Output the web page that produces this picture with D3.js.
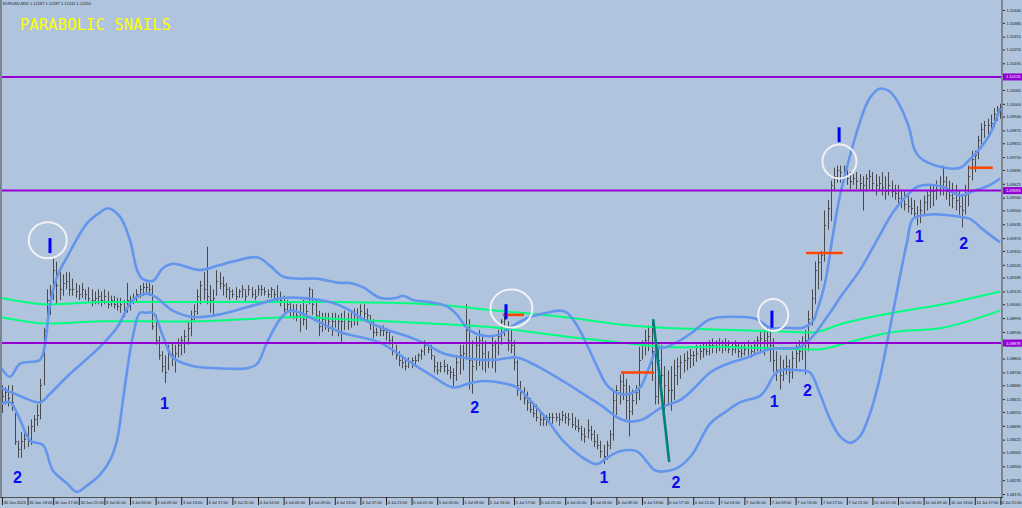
<!DOCTYPE html>
<html><head><meta charset="utf-8">
<script src="https://cdn.jsdelivr.net/npm/d3@7/dist/d3.min.js"></script>
<style>html,body{margin:0;padding:0;background:#B0C4DE;overflow:hidden}</style>
</head><body>
<svg id="c" width="1022" height="508"></svg>
<script>
// ---------------- DATA ----------------
const symbolHeader = "EURUSD,M30  1.12287 1.12287 1.12242 1.12250";
const chartTitle = "PARABOLIC SNAILS";

const timeLabels = ["30 Jun 2023","30 Jun 13:00","30 Jun 17:00","30 Jun 21:00",
 "3 Jul 01:00","3 Jul 05:00","3 Jul 09:00","3 Jul 13:00","3 Jul 17:00","3 Jul 21:00",
 "4 Jul 01:00","4 Jul 05:00","4 Jul 09:00","4 Jul 13:00","4 Jul 17:00","4 Jul 21:00",
 "5 Jul 01:00","5 Jul 05:00","5 Jul 09:00","5 Jul 13:00","5 Jul 17:00","5 Jul 21:00",
 "6 Jul 01:00","6 Jul 05:00","6 Jul 09:00","6 Jul 13:00","6 Jul 17:00","6 Jul 21:00",
 "7 Jul 01:00","7 Jul 05:00","7 Jul 09:00","7 Jul 13:00","7 Jul 17:00","7 Jul 21:00",
 "10 Jul 01:00","10 Jul 05:00","10 Jul 09:00","10 Jul 13:00","10 Jul 17:00","10 Jul 21:00"];
const barsPerLabel = 8;

const priceTicks = [1.10440,1.10380,1.10315,1.10255,1.10190,1.10065,1.10000,1.09940,1.09875,1.09815,
 1.09750,1.09690,1.09625,1.09560,1.09500,1.09435,1.09370,1.09310,1.09245,1.09185,1.09120,1.09060,
 1.08995,1.08930,1.08870,1.08805,1.08740,1.08680,1.08615,1.08555,1.08490,1.08425,1.08365,1.08300,
 1.08235,1.08170];

const high = [
1.0868,1.0867,1.0868,1.0868,1.0855,1.0842,1.0846,1.0847,1.0849,1.0852,
1.0854,1.0859,1.0871,1.0895,1.0913,1.0915,1.0928,1.0926,1.0921,1.0920,
1.0921,1.0921,1.0918,1.0916,1.0915,1.0916,1.0913,1.0914,1.0913,1.0912,
1.0913,1.0912,1.0913,1.0912,1.0910,1.0910,1.0909,1.0909,1.0908,1.0916,
1.0910,1.0911,1.0913,1.0915,1.0916,1.0916,1.0916,1.0915,1.0901,1.0891,
1.0884,1.0882,1.0887,1.0888,1.0887,1.0890,1.0891,1.0894,1.0898,1.0903,
1.0906,1.0913,1.0917,1.0921,1.0933,1.0915,1.0913,1.0922,1.0921,1.0919,
1.0916,1.0914,1.0913,1.0914,1.0913,1.0915,1.0913,1.0915,1.0914,1.0913,
1.0915,1.0915,1.0914,1.0913,1.0914,1.0913,1.0915,1.0912,1.0910,1.0908,
1.0907,1.0906,1.0906,1.0906,1.0908,1.0906,1.0914,1.0913,1.0908,1.0903,
1.0902,1.0902,1.0902,1.0902,1.0902,1.0901,1.0902,1.0903,1.0902,1.0903,
1.0904,1.0904,1.0906,1.0906,1.0904,1.0901,1.0899,1.0895,1.0896,1.0896,
1.0895,1.0894,1.0891,1.0887,1.0884,1.0882,1.0881,1.0881,1.0881,1.0882,
1.0883,1.0885,1.0889,1.0888,1.0887,1.0882,1.0879,1.0879,1.0880,1.0878,
1.0877,1.0876,1.0882,1.0887,1.0887,1.0906,1.0899,1.0889,1.0891,1.0894,
1.0891,1.0889,1.0884,1.0891,1.0889,1.0894,1.0899,1.0902,1.0898,1.0896,
1.0889,1.0880,1.0870,1.0867,1.0865,1.0862,1.0860,1.0859,1.0856,1.0855,
1.0854,1.0855,1.0855,1.0855,1.0855,1.0856,1.0855,1.0855,1.0855,1.0853,
1.0852,1.0849,1.0848,1.0852,1.0849,1.0847,1.0845,1.0842,1.0840,1.0842,
1.0847,1.0866,1.0868,1.0873,1.0874,1.0871,1.0868,1.0866,1.0868,1.0886,
1.0889,1.0894,1.0896,1.0898,1.0889,1.0887,1.0887,1.0877,1.0875,1.0877,
1.0880,1.0881,1.0882,1.0883,1.0884,1.0885,1.0884,1.0887,1.0887,1.0888,
1.0888,1.0889,1.0890,1.0889,1.0890,1.0889,1.0890,1.0889,1.0888,1.0889,
1.0888,1.0887,1.0888,1.0889,1.0887,1.0889,1.0891,1.0893,1.0894,1.0895,
1.0895,1.0890,1.0884,1.0882,1.0880,1.0882,1.0880,1.0884,1.0887,1.0889,
1.0891,1.0894,1.0903,1.0913,1.0926,1.0930,1.0931,1.0950,1.0955,1.0964,
1.0970,1.0971,1.0971,1.0971,1.0969,1.0968,1.0967,1.0968,1.0967,1.0966,
1.0967,1.0969,1.0968,1.0967,1.0966,1.0968,1.0966,1.0968,1.0964,1.0962,
1.0962,1.0959,1.0959,1.0957,1.0956,1.0955,1.0952,1.0955,1.0957,1.0959,
1.0962,1.0962,1.0964,1.0966,1.0971,1.0966,1.0964,1.0963,1.0962,1.0959,
1.0957,1.0962,1.0971,1.0978,1.0978,1.0985,1.0991,1.0992,1.0993,1.0995,
1.0998,1.0999,1.1000];

const low = [
1.0855,1.0859,1.0858,1.0856,1.0840,1.0834,1.0834,1.0838,1.0839,1.0840,
1.0846,1.0849,1.0852,1.0868,1.0894,1.0901,1.0908,1.0906,1.0908,1.0910,
1.0913,1.0910,1.0910,1.0909,1.0908,1.0909,1.0908,1.0907,1.0905,1.0906,
1.0906,1.0905,1.0906,1.0904,1.0905,1.0904,1.0903,1.0902,1.0900,1.0902,
1.0903,1.0906,1.0907,1.0909,1.0910,1.0911,1.0910,1.0894,1.0887,1.0880,
1.0874,1.0869,1.0875,1.0877,1.0874,1.0881,1.0882,1.0883,1.0887,1.0891,
1.0898,1.0901,1.0906,1.0908,1.0906,1.0902,1.0900,1.0910,1.0913,1.0910,
1.0909,1.0908,1.0909,1.0908,1.0909,1.0909,1.0907,1.0910,1.0909,1.0908,
1.0910,1.0910,1.0910,1.0909,1.0909,1.0908,1.0907,1.0905,1.0902,1.0902,
1.0900,1.0899,1.0898,1.0893,1.0896,1.0894,1.0906,1.0901,1.0898,1.0891,
1.0893,1.0894,1.0893,1.0891,1.0895,1.0891,1.0888,1.0894,1.0894,1.0895,
1.0896,1.0896,1.0898,1.0898,1.0898,1.0894,1.0890,1.0891,1.0891,1.0891,
1.0889,1.0887,1.0882,1.0880,1.0877,1.0876,1.0875,1.0876,1.0876,1.0877,
1.0879,1.0880,1.0882,1.0883,1.0880,1.0874,1.0873,1.0874,1.0874,1.0873,
1.0871,1.0867,1.0870,1.0873,1.0875,1.0880,1.0866,1.0864,1.0875,1.0877,
1.0875,1.0874,1.0876,1.0876,1.0874,1.0882,1.0887,1.0891,1.0884,1.0883,
1.0875,1.0863,1.0861,1.0859,1.0856,1.0855,1.0853,1.0851,1.0849,1.0849,
1.0849,1.0850,1.0850,1.0851,1.0849,1.0851,1.0850,1.0849,1.0848,1.0847,
1.0846,1.0842,1.0841,1.0843,1.0842,1.0839,1.0838,1.0834,1.0831,1.0833,
1.0838,1.0842,1.0854,1.0859,1.0861,1.0852,1.0844,1.0854,1.0859,1.0861,
1.0880,1.0882,1.0884,1.0870,1.0859,1.0859,1.0863,1.0856,1.0859,1.0856,
1.0861,1.0868,1.0871,1.0874,1.0875,1.0876,1.0877,1.0879,1.0880,1.0881,
1.0882,1.0882,1.0883,1.0883,1.0884,1.0883,1.0884,1.0883,1.0882,1.0883,
1.0881,1.0881,1.0882,1.0882,1.0881,1.0882,1.0884,1.0883,1.0882,1.0884,
1.0879,1.0874,1.0870,1.0866,1.0870,1.0873,1.0869,1.0871,1.0876,1.0879,
1.0880,1.0873,1.0884,1.0896,1.0906,1.0913,1.0917,1.0926,1.0941,1.0945,
1.0959,1.0963,1.0963,1.0964,1.0962,1.0960,1.0962,1.0960,1.0959,1.0950,
1.0959,1.0960,1.0959,1.0957,1.0959,1.0957,1.0955,1.0957,1.0956,1.0955,
1.0952,1.0951,1.0950,1.0949,1.0948,1.0946,1.0943,1.0944,1.0948,1.0950,
1.0951,1.0952,1.0955,1.0957,1.0957,1.0955,1.0952,1.0951,1.0950,1.0948,
1.0942,1.0948,1.0952,1.0964,1.0968,1.0974,1.0981,1.0984,1.0985,1.0987,
1.0989,1.0992,1.0993];

const close = [
1.0863,1.0865,1.0862,1.0860,1.0842,1.0838,1.0842,1.0843,1.0842,1.0849,
1.0852,1.0854,1.0868,1.0894,1.0908,1.0912,1.0922,1.0915,1.0913,1.0916,
1.0917,1.0913,1.0913,1.0912,1.0911,1.0913,1.0911,1.0909,1.0908,1.0909,
1.0910,1.0908,1.0910,1.0906,1.0908,1.0906,1.0905,1.0906,1.0904,1.0908,
1.0907,1.0909,1.0911,1.0913,1.0914,1.0914,1.0913,1.0896,1.0889,1.0882,
1.0877,1.0874,1.0884,1.0882,1.0883,1.0887,1.0889,1.0891,1.0895,1.0899,
1.0903,1.0910,1.0915,1.0913,1.0910,1.0908,1.0909,1.0917,1.0916,1.0915,
1.0913,1.0912,1.0911,1.0910,1.0912,1.0913,1.0910,1.0913,1.0911,1.0910,
1.0913,1.0913,1.0912,1.0911,1.0913,1.0911,1.0909,1.0908,1.0904,1.0906,
1.0904,1.0903,1.0901,1.0902,1.0899,1.0903,1.0913,1.0906,1.0901,1.0896,
1.0899,1.0900,1.0898,1.0898,1.0899,1.0898,1.0898,1.0899,1.0898,1.0899,
1.0901,1.0901,1.0903,1.0902,1.0901,1.0898,1.0893,1.0893,1.0894,1.0894,
1.0893,1.0889,1.0884,1.0882,1.0880,1.0879,1.0877,1.0879,1.0880,1.0880,
1.0882,1.0884,1.0887,1.0885,1.0882,1.0877,1.0875,1.0877,1.0877,1.0875,
1.0874,1.0873,1.0879,1.0882,1.0883,1.0894,1.0880,1.0877,1.0887,1.0889,
1.0883,1.0880,1.0880,1.0887,1.0880,1.0891,1.0898,1.0899,1.0889,1.0887,
1.0879,1.0868,1.0865,1.0862,1.0860,1.0857,1.0855,1.0853,1.0852,1.0852,
1.0853,1.0853,1.0853,1.0853,1.0852,1.0854,1.0853,1.0852,1.0850,1.0849,
1.0848,1.0845,1.0844,1.0847,1.0845,1.0842,1.0840,1.0837,1.0835,1.0840,
1.0845,1.0861,1.0866,1.0870,1.0868,1.0861,1.0856,1.0861,1.0865,1.0880,
1.0887,1.0889,1.0891,1.0884,1.0863,1.0880,1.0873,1.0868,1.0866,1.0866,
1.0873,1.0877,1.0879,1.0880,1.0881,1.0882,1.0882,1.0883,1.0884,1.0885,
1.0884,1.0887,1.0887,1.0886,1.0888,1.0886,1.0887,1.0885,1.0885,1.0887,
1.0884,1.0883,1.0885,1.0886,1.0884,1.0887,1.0889,1.0890,1.0889,1.0891,
1.0887,1.0880,1.0875,1.0873,1.0876,1.0877,1.0874,1.0881,1.0883,1.0884,
1.0887,1.0889,1.0899,1.0909,1.0922,1.0926,1.0929,1.0943,1.0951,1.0962,
1.0966,1.0969,1.0968,1.0969,1.0965,1.0964,1.0965,1.0964,1.0963,1.0962,
1.0965,1.0966,1.0963,1.0962,1.0963,1.0961,1.0959,1.0962,1.0959,1.0958,
1.0956,1.0955,1.0953,1.0952,1.0951,1.0949,1.0948,1.0950,1.0954,1.0957,
1.0959,1.0959,1.0960,1.0962,1.0964,1.0959,1.0957,1.0956,1.0955,1.0952,
1.0950,1.0957,1.0966,1.0974,1.0976,1.0983,1.0988,1.0990,1.0990,1.0991,
1.0995,1.0997,1.0998];

// Bollinger-type envelope, [bar index, price]
const bandUpper = [[-0.6,1.0877],[2.5,1.0872],[5.6,1.0878],[11.9,1.0880],[13.4,1.0887],[15,1.0906],
 [17.5,1.0920],[20.3,1.0928],[26.6,1.0944],[30.6,1.0949],[33.1,1.0951],[36.9,1.0947],[40,1.0936],
 [42.2,1.0922],[43.8,1.0918],[47.2,1.0917],[50.3,1.0923],[53.4,1.0925],[61.9,1.0922],[67.2,1.0924],
 [72.2,1.0926],[79.7,1.0928],[83.8,1.0924],[87.8,1.0919],[93.1,1.0918],[98.4,1.0918],[105.6,1.0916],
 [108.8,1.0916],[112.8,1.0914],[118.1,1.0909],[123.4,1.0909],[125.3,1.0910],[128.4,1.0908],
 [133.8,1.0907],[139.1,1.0905],[142.2,1.0901],[145.3,1.0895],[148.4,1.0892],[152.5,1.0891],
 [155.6,1.0892],[157.8,1.0894],[160.9,1.0897],[165,1.0900],[170.3,1.0902],[174.4,1.0903],
 [176.6,1.0902],[179.7,1.0896],[182.8,1.0887],[185.9,1.0877],[189.1,1.0868],[193.1,1.0864],
 [196.3,1.0864],[199.4,1.0867],[201.6,1.0874],[203.1,1.0880],[204.7,1.0885],[207.8,1.0886],
 [211.9,1.0889],[215.9,1.0893],[221.3,1.0899],[231.6,1.0900],[235.9,1.0899],[240,1.0895],
 [245.3,1.0895],[250.3,1.0895],[253.4,1.0898],[254.7,1.0903],[257.2,1.0916],[259.4,1.0936],
 [261.6,1.0955],[264.7,1.0974],[267.8,1.0990],[270.9,1.1002],[274,1.1007],[277.2,1.1006],
 [280.3,1.1000],[283.4,1.0989],[285.3,1.0978],[287.5,1.0974],[294.7,1.0970],[299.4,1.0970],
 [302.5,1.0974],[305.6,1.0979],[308.8,1.0986],[311.9,1.0998]];
const bandMiddle = [[-0.6,1.0867],[5.6,1.0863],[11.9,1.0860],[15,1.0864],[20.3,1.0872],[30.6,1.0886],
 [35.9,1.0895],[40.9,1.0908],[45.3,1.0911],[48.4,1.0909],[53.4,1.0903],[59.7,1.0900],[67.2,1.0901],
 [77.5,1.0905],[87.8,1.0909],[93.1,1.0909],[102.5,1.0907],[108.8,1.0903],[112.8,1.0899],
 [120.3,1.0894],[126.6,1.0891],[131.6,1.0888],[137.8,1.0883],[144.1,1.0881],[149.4,1.0880],
 [154.7,1.0880],[160.9,1.0881],[167.2,1.0877],[175.3,1.0870],[181.6,1.0864],[187.8,1.0858],
 [192.2,1.0853],[196.3,1.0851],[200.3,1.0852],[203.4,1.0855],[206.6,1.0858],[211.9,1.0861],
 [215.9,1.0866],[221.3,1.0874],[226.6,1.0878],[232.8,1.0881],[240,1.0885],[249.4,1.0886],
 [253.4,1.0891],[257.8,1.0900],[262.8,1.0911],[268.1,1.0922],[273.4,1.0936],[278.4,1.0949],
 [282.8,1.0957],[285.9,1.0961],[289.1,1.0962],[294.1,1.0961],[299.4,1.0957],[303.4,1.0959],
 [308.8,1.0962],[311.9,1.0965]];
const bandLower = [[-0.6,1.0859],[2.5,1.0860],[5.6,1.0852],[8.8,1.0842],[12.8,1.0840],[15.9,1.0828],
 [20.3,1.0822],[23.4,1.0818],[26.6,1.0821],[30.6,1.0826],[33.8,1.0833],[35.9,1.0842],[37.8,1.0861],
 [39.4,1.0878],[40.9,1.0891],[43.1,1.0902],[45.3,1.0902],[47.2,1.0902],[50.3,1.0891],[53.4,1.0881],
 [59.7,1.0877],[67.2,1.0876],[76.6,1.0876],[79.7,1.0878],[82.8,1.0888],[86.9,1.0899],[90,1.0903],
 [93.1,1.0902],[105.6,1.0893],[118.1,1.0888],[128.4,1.0878],[133.8,1.0873],[140.9,1.0867],
 [146.3,1.0869],[150.3,1.0870],[156.6,1.0869],[160.9,1.0867],[165,1.0861],[170.3,1.0852],
 [175.3,1.0842],[180.6,1.0835],[185.9,1.0831],[189.1,1.0834],[193.1,1.0837],[198.4,1.0837],
 [201.6,1.0832],[204.1,1.0828],[208.8,1.0828],[211.9,1.0830],[215.9,1.0836],[221.3,1.0850],
 [226.6,1.0856],[230.6,1.0860],[236.9,1.0863],[239.1,1.0867],[240.9,1.0872],[243.1,1.0875],
 [249.4,1.0875],[252.5,1.0874],[255.6,1.0864],[258.8,1.0852],[261.9,1.0844],[265,1.0841],
 [268.1,1.0844],[271.3,1.0855],[274.4,1.0872],[277.5,1.0895],[280.6,1.0919],[282.8,1.0935],
 [284.7,1.0946],[289.1,1.0948],[294.1,1.0948],[299.4,1.0947],[302.5,1.0946],[306.6,1.0941],
 [311.9,1.0935]];

// two moving averages
const maUpper = [[-0.6,1.0909],[12.8,1.0906],[30.6,1.0907],[61.9,1.0907],[93.1,1.0907],[105.6,1.0907],
 [133.8,1.0906],[154.7,1.0903],[175.3,1.0900],[196.3,1.0896],[206.6,1.0895],[226.6,1.0894],
 [247.2,1.0893],[254.7,1.0893],[262.8,1.0897],[278.4,1.0902],[294.1,1.0906],[311.9,1.0912]];
const maLower = [[-0.6,1.0900],[12.8,1.0897],[30.6,1.0898],[61.9,1.0898],[93.1,1.0900],[105.6,1.0899],
 [133.8,1.0897],[154.7,1.0895],[175.3,1.0891],[193.1,1.0888],[206.6,1.0886],[226.6,1.0886],
 [247.2,1.0885],[256.6,1.0885],[264.1,1.0888],[278.4,1.0893],[294.1,1.0895],[311.9,1.0903]];

const levels = [1.10126, 1.09593, 1.08878];

// signal objects
const circleBar = [14.3, 159.2, 241.0, 261.7];
const circlePrice = [1.0936, 1.0904, 1.0901, 1.0973];
const arrowBar = [15, 157.5, 240.6, 261.6];
const arrowTop = [1.0937, 1.0906, 1.0903, 1.0989];
const arrowBottom = [1.0930, 1.0899, 1.0895, 1.0982];
const entryFrom = [156.5, 193.4, 251.3, 302.3];
const entryTo = [163.1, 203.8, 262.7, 309.6];
const entryPrice = [1.0901, 1.0874, 1.0930, 1.0970];
const trendLine = [[203.5, 1.0899], [208.5, 1.0832]];
const waveText = ["2","1","2","1","2","1","2","1","2"];
const waveBar = [4.8, 50.8, 147.7, 188.1, 210.6, 241.3, 251.7, 286.6, 300.5];
const wavePrice = [1.0822, 1.0857, 1.0855, 1.0822, 1.0820, 1.0858, 1.0863, 1.0935, 1.0932];

// ---------------- DRAWING ----------------
const W = 1022, H = 508, plotR = 1001, plotB = 497;
const FONT = 'Liberation Sans, Arial, sans-serif';
const svg = d3.select('#c');
svg.append('rect').attr('width', W).attr('height', H).attr('fill', '#B0C4DE');

const x = d3.scaleLinear().domain([0, 312]).range([2, 1000.4]);
const y = d3.scaleLinear().domain([1.0817, 1.1044]).range([494, 10]);

svg.append('defs').append('clipPath').attr('id', 'clip')
  .append('rect').attr('x', 0).attr('y', 0).attr('width', plotR).attr('height', plotB);
const plot = svg.append('g').attr('clip-path', 'url(#clip)');

// header & title
svg.append('text').attr('x', 3).attr('y', 4.8).attr('font-size', 4)
  .attr('font-family', FONT).attr('fill', '#1a1a1a').text(symbolHeader);
svg.append('text').attr('x', 20).attr('y', 29.5).attr('font-size', 15.2)
  .attr('font-family', 'DejaVu Sans Mono, monospace').attr('letter-spacing', 0.3)
  .attr('fill', '#FFFF00').text(chartTitle);

// price bars
const px = i => Math.round(x(i)) + 0.5;
let barPath = '';
high.forEach((h, i) => {
  const xx = px(i);
  barPath += `M${xx},${y(h)}V${y(low[i])}M${xx},${Math.round(y(close[i]))+0.5}h1.6`;
});
plot.append('path').attr('d', barPath).attr('stroke', '#4a4a4a').attr('stroke-width', 1).attr('fill', 'none');

// lines
const ln = d3.line().x(d => x(d[0])).y(d => y(d[1])).curve(d3.curveCatmullRom.alpha(0.5));
[maUpper, maLower].forEach(s => plot.append('path').attr('d', ln(s))
  .attr('fill', 'none').attr('stroke', '#00FF7F').attr('stroke-width', 2));
[bandUpper, bandMiddle, bandLower].forEach(s => plot.append('path').attr('d', ln(s))
  .attr('fill', 'none').attr('stroke', '#6495ED').attr('stroke-width', 2.6).attr('stroke-linejoin', 'round'));

// horizontal levels
levels.forEach(l => plot.append('line').attr('x1', 0).attr('x2', plotR)
  .attr('y1', y(l)).attr('y2', y(l)).attr('stroke', '#9400D3').attr('stroke-width', 2));

// entry segments
entryFrom.forEach((f, k) => plot.append('line').attr('x1', x(f)).attr('x2', x(entryTo[k]))
  .attr('y1', y(entryPrice[k])).attr('y2', y(entryPrice[k]))
  .attr('stroke', '#FF4500').attr('stroke-width', 2.6));

// trend line
plot.append('line').attr('x1', x(trendLine[0][0])).attr('y1', y(trendLine[0][1]))
  .attr('x2', x(trendLine[1][0])).attr('y2', y(trendLine[1][1]))
  .attr('stroke', '#008080').attr('stroke-width', 2.6);

// circles
const circR = [[19, 18], [21, 19], [15, 16], [17, 17]];
circleBar.forEach((b, k) => plot.append('ellipse').attr('cx', x(b)).attr('cy', y(circlePrice[k]))
  .attr('rx', circR[k][0]).attr('ry', circR[k][1])
  .attr('fill', 'none').attr('stroke', '#F2F2F2').attr('stroke-width', 2));

// arrows (vertical blue ticks)
arrowBar.forEach((b, k) => plot.append('line').attr('x1', x(b)).attr('x2', x(b))
  .attr('y1', y(arrowTop[k])).attr('y2', y(arrowBottom[k]))
  .attr('stroke', '#0000FF').attr('stroke-width', 3));

// wave numbers
waveText.forEach((t, k) => plot.append('text').attr('x', x(waveBar[k])).attr('y', y(wavePrice[k]))
  .attr('text-anchor', 'middle').attr('font-size', 16).attr('font-weight', 'bold')
  .attr('font-family', FONT).attr('fill', '#0A0AEE').text(t));

// frame
svg.append('line').attr('x1', 1).attr('x2', 1).attr('y1', 0).attr('y2', plotB)
  .attr('stroke', '#7d8590').attr('stroke-width', 2);
svg.append('line').attr('x1', plotR + 1).attr('x2', plotR + 1).attr('y1', 0).attr('y2', plotB + 1)
  .attr('stroke', '#7d8590').attr('stroke-width', 2);
svg.append('line').attr('x1', 0).attr('x2', plotR + 2).attr('y1', plotB + 0.5).attr('y2', plotB + 0.5)
  .attr('stroke', '#505050').attr('stroke-width', 1);

// right price axis
const ya = svg.append('g').attr('transform', `translate(${plotR + 2},0)`)
  .call(d3.axisRight(y).tickValues(priceTicks).tickFormat(d3.format('.5f')).tickSize(2).tickPadding(1.5));
ya.select('.domain').remove();
ya.selectAll('line').attr('stroke', '#222');
ya.selectAll('text').attr('font-size', 4).attr('font-family', FONT).attr('fill', '#111');

// level tags
levels.forEach(l => {
  const g = svg.append('g');
  g.append('rect').attr('x', plotR + 2).attr('y', y(l) - 3.5).attr('width', W - plotR - 2).attr('height', 7).attr('fill', '#9400D3');
  g.append('text').attr('x', plotR + 5).attr('y', y(l) + 1.5).attr('font-size', 4)
    .attr('font-family', FONT).attr('fill', '#fff').text(d3.format('.5f')(l));
});

// bottom time axis
const xa = svg.append('g').attr('transform', `translate(0,${plotB})`)
  .call(d3.axisBottom(x).tickValues(timeLabels.map((_, j) => j * barsPerLabel))
    .tickFormat((d, j) => timeLabels[j]).tickSize(8));
xa.select('.domain').remove();
xa.selectAll('line').attr('stroke', '#222');
xa.selectAll('text').attr('text-anchor', 'start').attr('x', 1.2).attr('y', 3.8).attr('dy', '0.71em')
  .attr('font-size', 4).attr('font-family', FONT).attr('fill', '#111');
// keep the last label inside the window
xa.selectAll('text').each(function () {
  const t = d3.select(this);
  const tx = x(+d3.select(this.parentNode).datum());
  const w = this.getComputedTextLength();
  if (tx + 1.2 + w > W - 1) t.attr('x', W - 1 - w - tx);
});
</script>
</body></html>
